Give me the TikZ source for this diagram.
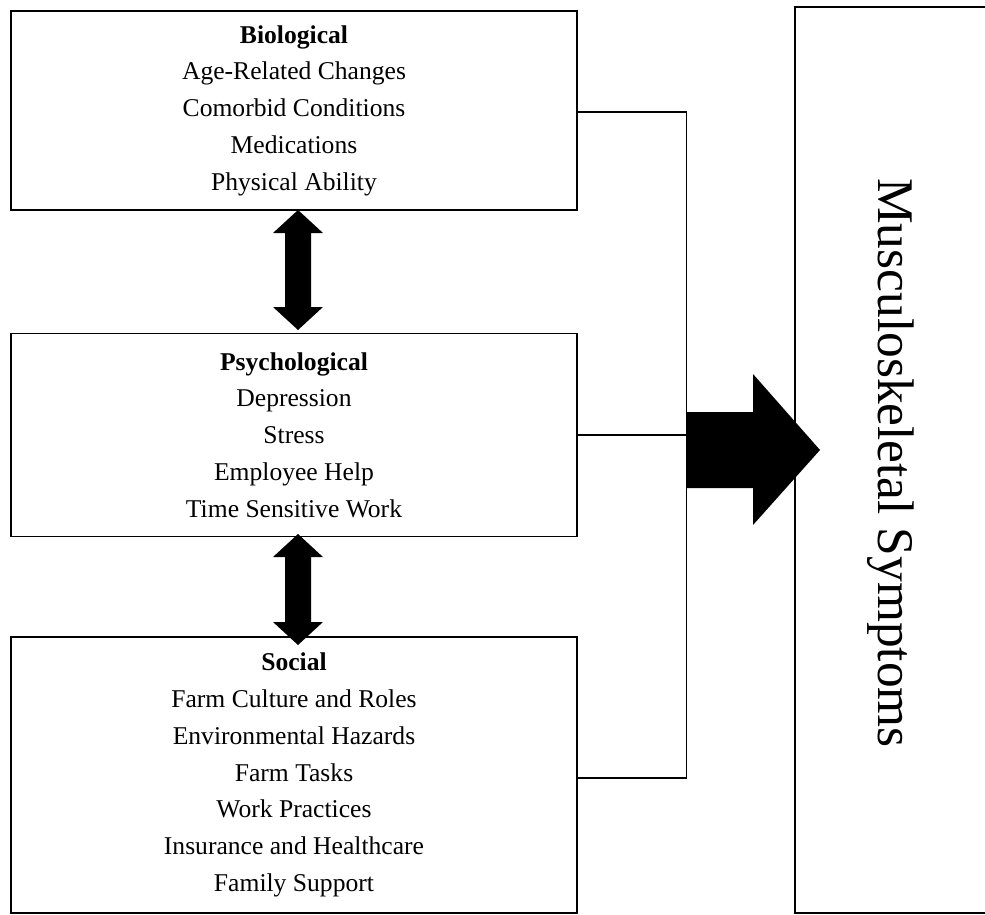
\documentclass[tikz,border=0pt]{standalone}
\usepackage{fontspec}
\setmainfont{Liberation Serif}
\begin{document}
\begin{tikzpicture}[x=1pt,y=-1pt,
  box/.style={draw,line width=1.8pt,align=center,inner sep=0pt,
    font=\fontsize{25.6}{36.8}\selectfont},
  conn/.style={line width=1.3pt},
  fatarrow/.style={fill=black}]
\useasboundingbox (0,0) rectangle (985,915);

\node[box,minimum width=566pt,minimum height=199pt] (bio) at (294,110.5)
  {\textbf{Biological}\\Age-Related Changes\\Comorbid Conditions\\Medications\\Physical Ability};
\node[box,minimum width=566pt,minimum height=203pt] (psy) at (294,435)
  {\textbf{Psychological}\\Depression\\Stress\\Employee Help\\Time Sensitive Work};
\node[box,minimum width=566pt,minimum height=276pt] (soc) at (294,775)
  {\textbf{Social}\\Farm Culture and Roles\\Environmental Hazards\\Farm Tasks\\Work Practices\\Insurance and Healthcare\\Family Support};

% right box, its right side lies beyond the picture edge
\node[minimum width=190pt,minimum height=906pt,inner sep=0pt] (ms) at (890,460) {};
\draw[line width=1.8pt] (ms.north east) -- (ms.north west) -- (ms.south west) -- (ms.south east);
\node[rotate=-90,inner sep=0pt,font=\fontsize{51.4}{60}\selectfont] (mstext) at (891,463) {Musculoskeletal Symptoms};

% connectors
\coordinate (jb) at (686.5,112);
\coordinate (jp) at (686.5,435);
\coordinate (js) at (686.5,778);
\draw[conn] (bio.east |- jb) -- (jb) -- (js) -- (soc.east |- js);
\draw[conn] (psy.east) -- (jp);

% big arrow
\fill[fatarrow] (687,412) -- (753,412) -- (753,374) -- (820,450) -- (753,525) -- (753,488) -- (687,488) -- cycle;

% double arrows
\fill[fatarrow] (298,210) -- (323,233) -- (311,233) -- (311,307) -- (323,307) -- (298,330)
  -- (273,307) -- (285,307) -- (285,233) -- (273,233) -- cycle;
\fill[fatarrow] (298,534) -- (323,557) -- (311,557) -- (311,622) -- (323,622) -- (298,645)
  -- (273,622) -- (285,622) -- (285,557) -- (273,557) -- cycle;
\end{tikzpicture}
\end{document}
